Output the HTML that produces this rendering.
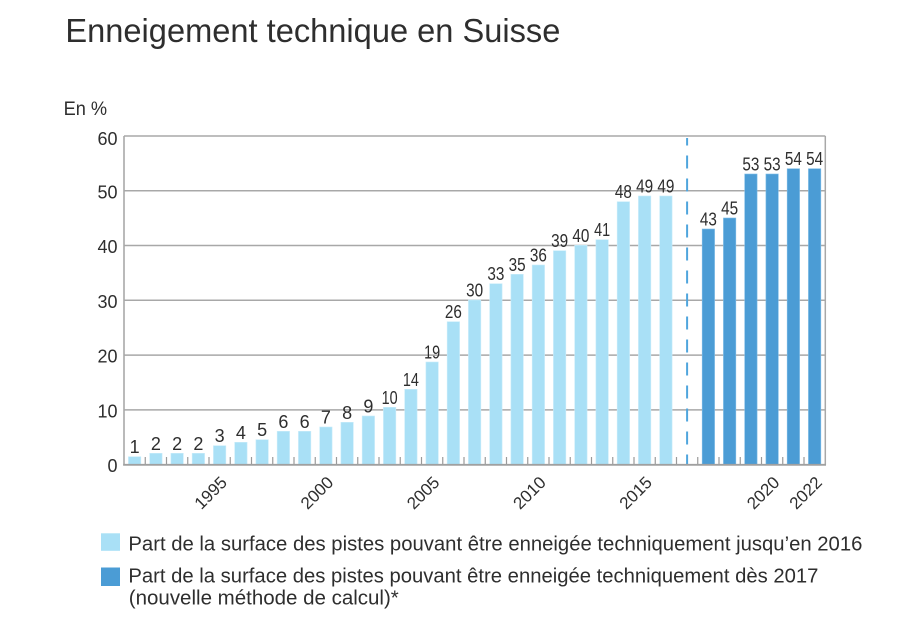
<!DOCTYPE html>
<html>
<head>
<meta charset="utf-8">
<style>
html,body{margin:0;padding:0;background:#fff;}
svg{display:block;}
text{font-family:"Liberation Sans",sans-serif;fill:#2e2e2e;}
</style>
</head>
<body>
<svg width="914" height="630" viewBox="0 0 914 630" xmlns="http://www.w3.org/2000/svg">
<rect x="0" y="0" width="914" height="630" fill="#fff"/>
<!-- Title -->
<text x="65.4" y="42" font-size="33" textLength="495" lengthAdjust="spacingAndGlyphs" fill="#2b2b2b">Enneigement technique en Suisse</text>
<!-- Unit -->
<text x="63.6" y="115" font-size="19" textLength="43.5" lengthAdjust="spacingAndGlyphs">En %</text>

<!-- Gridlines -->
<g stroke="#a8a8a8" stroke-width="1.5" fill="none">
<line x1="124" y1="136" x2="825.3" y2="136"/>
<line x1="124" y1="190.7" x2="825.3" y2="190.7"/>
<line x1="124" y1="245.5" x2="825.3" y2="245.5"/>
<line x1="124" y1="300.3" x2="825.3" y2="300.3"/>
<line x1="124" y1="355.1" x2="825.3" y2="355.1"/>
<line x1="124" y1="409.9" x2="825.3" y2="409.9"/>
<line x1="825.3" y1="136" x2="825.3" y2="465"/>
</g>

<!-- Y labels -->
<g font-size="18" text-anchor="end">
<text x="117.5" y="145">60</text>
<text x="117.5" y="198.3">50</text>
<text x="117.5" y="253.1">40</text>
<text x="117.5" y="307.9">30</text>
<text x="117.5" y="362.7">20</text>
<text x="117.5" y="417.5">10</text>
<text x="117.5" y="472">0</text>
</g>

<!-- Light bars -->
<g fill="#a9e0f6" stroke="#c9ecfa" stroke-width="0.6">
<rect x="128.43" y="456.7" width="12.4" height="8"/>
<rect x="149.68" y="453.3" width="12.4" height="11.4"/>
<rect x="170.93" y="453.3" width="12.4" height="11.4"/>
<rect x="192.18" y="453.3" width="12.4" height="11.4"/>
<rect x="213.43" y="445.7" width="12.4" height="19"/>
<rect x="234.68" y="442.3" width="12.4" height="22.4"/>
<rect x="255.93" y="439.7" width="12.4" height="25"/>
<rect x="277.18" y="431.3" width="12.4" height="33.4"/>
<rect x="298.43" y="431.3" width="12.4" height="33.4"/>
<rect x="319.68" y="427" width="12.4" height="37.7"/>
<rect x="340.93" y="422.3" width="12.4" height="42.4"/>
<rect x="362.18" y="416" width="12.4" height="48.7"/>
<rect x="383.43" y="407.3" width="12.4" height="57.4"/>
<rect x="404.68" y="389.3" width="12.4" height="75.4"/>
<rect x="425.93" y="362" width="12.4" height="102.7"/>
<rect x="447.18" y="321.7" width="12.4" height="143"/>
<rect x="468.43" y="300" width="12.4" height="164.7"/>
<rect x="489.68" y="283.7" width="12.4" height="181"/>
<rect x="510.93" y="274.3" width="12.4" height="190.4"/>
<rect x="532.18" y="265" width="12.4" height="199.7"/>
<rect x="553.43" y="250.7" width="12.4" height="214"/>
<rect x="574.68" y="245.3" width="12.4" height="219.4"/>
<rect x="595.93" y="239.7" width="12.4" height="225"/>
<rect x="617.18" y="201.7" width="12.4" height="263"/>
<rect x="638.43" y="196" width="12.4" height="268.7"/>
<rect x="659.68" y="196" width="12.4" height="268.7"/>
</g>

<!-- Dark bars -->
<g fill="#4b9cd5" stroke="#7fbde6" stroke-width="0.6">
<rect x="702.18" y="229" width="12.4" height="235.7"/>
<rect x="723.43" y="218" width="12.4" height="246.7"/>
<rect x="744.68" y="174" width="12.4" height="290.7"/>
<rect x="765.93" y="174" width="12.4" height="290.7"/>
<rect x="787.18" y="168.7" width="12.4" height="296"/>
<rect x="808.43" y="168.7" width="12.4" height="296"/>
</g>

<!-- Dashed separator -->
<line x1="687.1" y1="138" x2="687.1" y2="465" stroke="#4fa5dd" stroke-width="2" stroke-dasharray="13 10" stroke-dashoffset="5.5"/>

<!-- Ticks -->
<g stroke="#9a9a9a" stroke-width="1.2">
<line x1="145.25" y1="457" x2="145.25" y2="465"/>
<line x1="166.5" y1="457" x2="166.5" y2="465"/>
<line x1="187.75" y1="457" x2="187.75" y2="465"/>
<line x1="209" y1="457" x2="209" y2="465"/>
<line x1="230.25" y1="457" x2="230.25" y2="465"/>
<line x1="251.5" y1="457" x2="251.5" y2="465"/>
<line x1="272.75" y1="457" x2="272.75" y2="465"/>
<line x1="294" y1="457" x2="294" y2="465"/>
<line x1="315.25" y1="457" x2="315.25" y2="465"/>
<line x1="336.5" y1="457" x2="336.5" y2="465"/>
<line x1="357.75" y1="457" x2="357.75" y2="465"/>
<line x1="379" y1="457" x2="379" y2="465"/>
<line x1="400.25" y1="457" x2="400.25" y2="465"/>
<line x1="421.5" y1="457" x2="421.5" y2="465"/>
<line x1="442.75" y1="457" x2="442.75" y2="465"/>
<line x1="464" y1="457" x2="464" y2="465"/>
<line x1="485.25" y1="457" x2="485.25" y2="465"/>
<line x1="506.5" y1="457" x2="506.5" y2="465"/>
<line x1="527.75" y1="457" x2="527.75" y2="465"/>
<line x1="549" y1="457" x2="549" y2="465"/>
<line x1="570.25" y1="457" x2="570.25" y2="465"/>
<line x1="591.5" y1="457" x2="591.5" y2="465"/>
<line x1="612.75" y1="457" x2="612.75" y2="465"/>
<line x1="634" y1="457" x2="634" y2="465"/>
<line x1="655.25" y1="457" x2="655.25" y2="465"/>
<line x1="676.5" y1="457" x2="676.5" y2="465"/>
<line x1="697.75" y1="457" x2="697.75" y2="465"/>
<line x1="719" y1="457" x2="719" y2="465"/>
<line x1="740.25" y1="457" x2="740.25" y2="465"/>
<line x1="761.5" y1="457" x2="761.5" y2="465"/>
<line x1="782.75" y1="457" x2="782.75" y2="465"/>
<line x1="804" y1="457" x2="804" y2="465"/>
</g>

<!-- Axes -->
<line x1="124" y1="136" x2="124" y2="465.5" stroke="#a8a8a8" stroke-width="1.6"/>
<line x1="123.2" y1="464.8" x2="826" y2="464.8" stroke="#a0a0a0" stroke-width="1.8"/>

<!-- Value labels -->
<g font-size="18" text-anchor="middle">
<text x="134.63" y="453.2">1</text>
<text x="155.88" y="449.8">2</text>
<text x="177.13" y="449.8">2</text>
<text x="198.38" y="449.8">2</text>
<text x="219.63" y="442.2">3</text>
<text x="240.88" y="438.8">4</text>
<text x="262.13" y="436.2">5</text>
<text x="283.38" y="427.8">6</text>
<text x="304.63" y="427.8">6</text>
<text x="325.88" y="423.5">7</text>
<text x="347.13" y="418.8">8</text>
<text x="368.38" y="412.5">9</text>
<text x="389.63" y="403.8" textLength="16" lengthAdjust="spacingAndGlyphs">10</text>
<text x="410.88" y="385.8" textLength="16" lengthAdjust="spacingAndGlyphs">14</text>
<text x="432.13" y="358.5" textLength="16" lengthAdjust="spacingAndGlyphs">19</text>
<text x="453.38" y="318.2" textLength="17" lengthAdjust="spacingAndGlyphs">26</text>
<text x="474.63" y="296.5" textLength="17" lengthAdjust="spacingAndGlyphs">30</text>
<text x="495.88" y="280.2" textLength="17" lengthAdjust="spacingAndGlyphs">33</text>
<text x="517.13" y="270.8" textLength="17" lengthAdjust="spacingAndGlyphs">35</text>
<text x="538.38" y="261.5" textLength="17" lengthAdjust="spacingAndGlyphs">36</text>
<text x="559.63" y="247.2" textLength="17" lengthAdjust="spacingAndGlyphs">39</text>
<text x="580.88" y="241.8" textLength="17" lengthAdjust="spacingAndGlyphs">40</text>
<text x="602.13" y="236.2" textLength="16" lengthAdjust="spacingAndGlyphs">41</text>
<text x="623.38" y="198.2" textLength="17" lengthAdjust="spacingAndGlyphs">48</text>
<text x="644.63" y="192.5" textLength="17" lengthAdjust="spacingAndGlyphs">49</text>
<text x="665.88" y="192.5" textLength="17" lengthAdjust="spacingAndGlyphs">49</text>
<text x="708.38" y="225.5" textLength="17" lengthAdjust="spacingAndGlyphs">43</text>
<text x="729.63" y="214.5" textLength="17" lengthAdjust="spacingAndGlyphs">45</text>
<text x="750.88" y="170.5" textLength="17" lengthAdjust="spacingAndGlyphs">53</text>
<text x="772.13" y="170.5" textLength="17" lengthAdjust="spacingAndGlyphs">53</text>
<text x="793.38" y="165.2" textLength="17" lengthAdjust="spacingAndGlyphs">54</text>
<text x="814.63" y="165.2" textLength="17" lengthAdjust="spacingAndGlyphs">54</text>
</g>

<!-- X labels -->
<g font-size="17" text-anchor="end">
<text transform="translate(228.1,483.5) rotate(-45)">1995</text>
<text transform="translate(334.4,483.5) rotate(-45)">2000</text>
<text transform="translate(440.6,483.5) rotate(-45)">2005</text>
<text transform="translate(546.9,483.5) rotate(-45)">2010</text>
<text transform="translate(653.1,483.5) rotate(-45)">2015</text>
<text transform="translate(780.6,483.5) rotate(-45)">2020</text>
<text transform="translate(823.1,483.5) rotate(-45)">2022</text>
</g>

<!-- Legend -->
<rect x="101" y="533.3" width="19" height="17.5" fill="#a9e0f6"/>
<rect x="101" y="567.5" width="19" height="18.5" fill="#4b9cd5"/>
<g font-size="20">
<text x="128.4" y="550.5" textLength="734" lengthAdjust="spacingAndGlyphs">Part de la surface des pistes pouvant être enneigée techniquement jusqu’en 2016</text>
<text x="128.4" y="582.5" textLength="690" lengthAdjust="spacingAndGlyphs">Part de la surface des pistes pouvant être enneigée techniquement dès 2017</text>
<text x="128.8" y="604.5" textLength="270" lengthAdjust="spacingAndGlyphs">(nouvelle méthode de calcul)*</text>
</g>
</svg>
</body>
</html>
